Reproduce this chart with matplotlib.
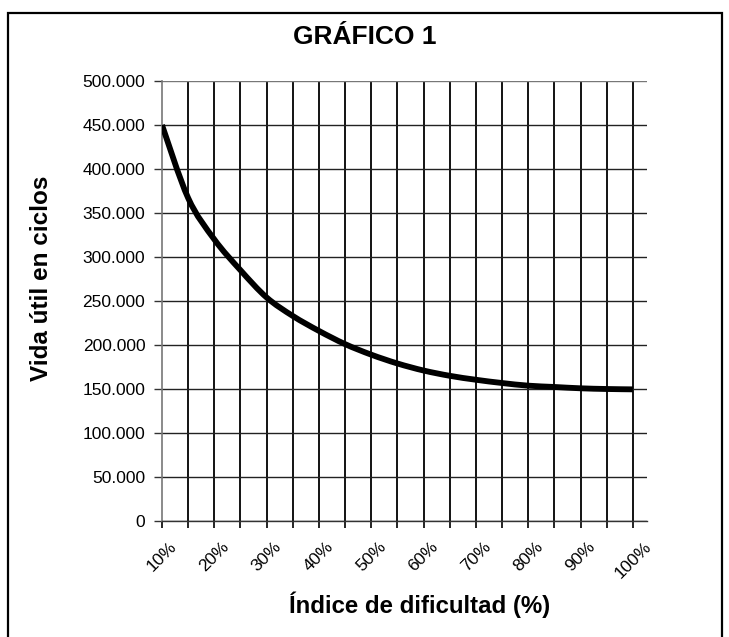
import matplotlib.pyplot as plt
from matplotlib.patches import Rectangle, PathPatch
from matplotlib.path import Path
from matplotlib.ticker import FuncFormatter

# Índice de dificultad (%) cada 5 %, vida útil en ciclos
dificultad = [10, 15, 20, 25, 30, 35, 40, 45, 50, 55,
              60, 65, 70, 75, 80, 85, 90, 95, 100]
ciclos = [450000, 367000, 320000, 285000, 254000, 233000, 216000, 201000,
          189000, 179000, 171000, 165000, 160500, 156800, 153800, 152300,
          150800, 150000, 149600]
etiquetas_x = [10, 20, 30, 40, 50, 60, 70, 80, 90, 100]

plt.rcParams["font.family"] = ["Liberation Sans", "DejaVu Sans"]


def linea_suavizada(xs, ys):
    # línea suavizada (Catmull-Rom) que pasa por todos los puntos
    verts = [(xs[0], ys[0])]
    codes = [Path.MOVETO]
    n = len(xs)
    for i in range(n - 1):
        x0, y0 = (xs[i - 1], ys[i - 1]) if i > 0 else (xs[i], ys[i])
        x1, y1 = xs[i], ys[i]
        x2, y2 = xs[i + 1], ys[i + 1]
        x3, y3 = (xs[i + 2], ys[i + 2]) if i + 2 < n else (x2, y2)
        verts += [(x1 + (x2 - x0) / 6, y1 + (y2 - y0) / 6),
                  (x2 - (x3 - x1) / 6, y2 - (y3 - y1) / 6),
                  (x2, y2)]
        codes += [Path.CURVE4] * 3
    return Path(verts, codes)


fig = plt.figure(figsize=(7.29, 6.37), dpi=100)
ax = fig.add_axes([162 / 729, 1 - 521 / 637, (647 - 162) / 729, (521 - 81) / 637])

# marco exterior del gráfico
fig.patches.append(Rectangle((8 / 729, -0.02), (722 - 8) / 729, 1.02 - 13 / 637,
                             transform=fig.transFigure, fill=False,
                             edgecolor="black", linewidth=1.6))

ax.add_patch(PathPatch(linea_suavizada(dificultad, ciclos), facecolor="none",
                       edgecolor="black", linewidth=4.2, capstyle="butt", zorder=3))

ax.set_xlim(10, 102.7)
ax.set_ylim(0, 500000)

ax.set_xticks(dificultad)
ax.set_xticklabels([f"{d}%" if d in etiquetas_x else "" for d in dificultad],
                   rotation=45, fontsize=12.5)
ax.set_yticks(range(0, 500001, 50000))
ax.yaxis.set_major_formatter(FuncFormatter(lambda v, p: f"{v:,.0f}".replace(",", ".")))
ax.tick_params(axis="y", labelsize=12.5, length=6, width=1, color="#333333", pad=6)
ax.tick_params(axis="x", length=5, width=1.2, color="black", pad=8)

# rejilla: verticales en cada 5 %, horizontales cada 50.000
for d in dificultad[1:]:
    ax.axvline(d, color="black", linewidth=1.3, zorder=1)
ax.grid(axis="y", color="#222222", linewidth=1.0, zorder=1)
ax.get_ygridlines()[-1].set_color("#777777")

for lado in ["top", "right"]:
    ax.spines[lado].set_visible(False)
ax.spines["left"].set_color("#777777")
ax.spines["left"].set_linewidth(1.2)
ax.spines["bottom"].set_color("#333333")
ax.spines["bottom"].set_linewidth(1.0)

fig.text(365 / 729, 1 - 37 / 637, "GRÁFICO 1", ha="center", va="center",
         fontsize=19, fontweight="bold")
fig.text(42 / 729, 1 - 278 / 637, "Vida útil en ciclos", ha="center", va="center",
         rotation=90, fontsize=17.5, fontweight="bold")
fig.text(420 / 729, 1 - 605 / 637, "Índice de dificultad (%)", ha="center",
         va="center", fontsize=17.3, fontweight="bold")

fig.savefig("out.png", dpi=100, facecolor="white")
